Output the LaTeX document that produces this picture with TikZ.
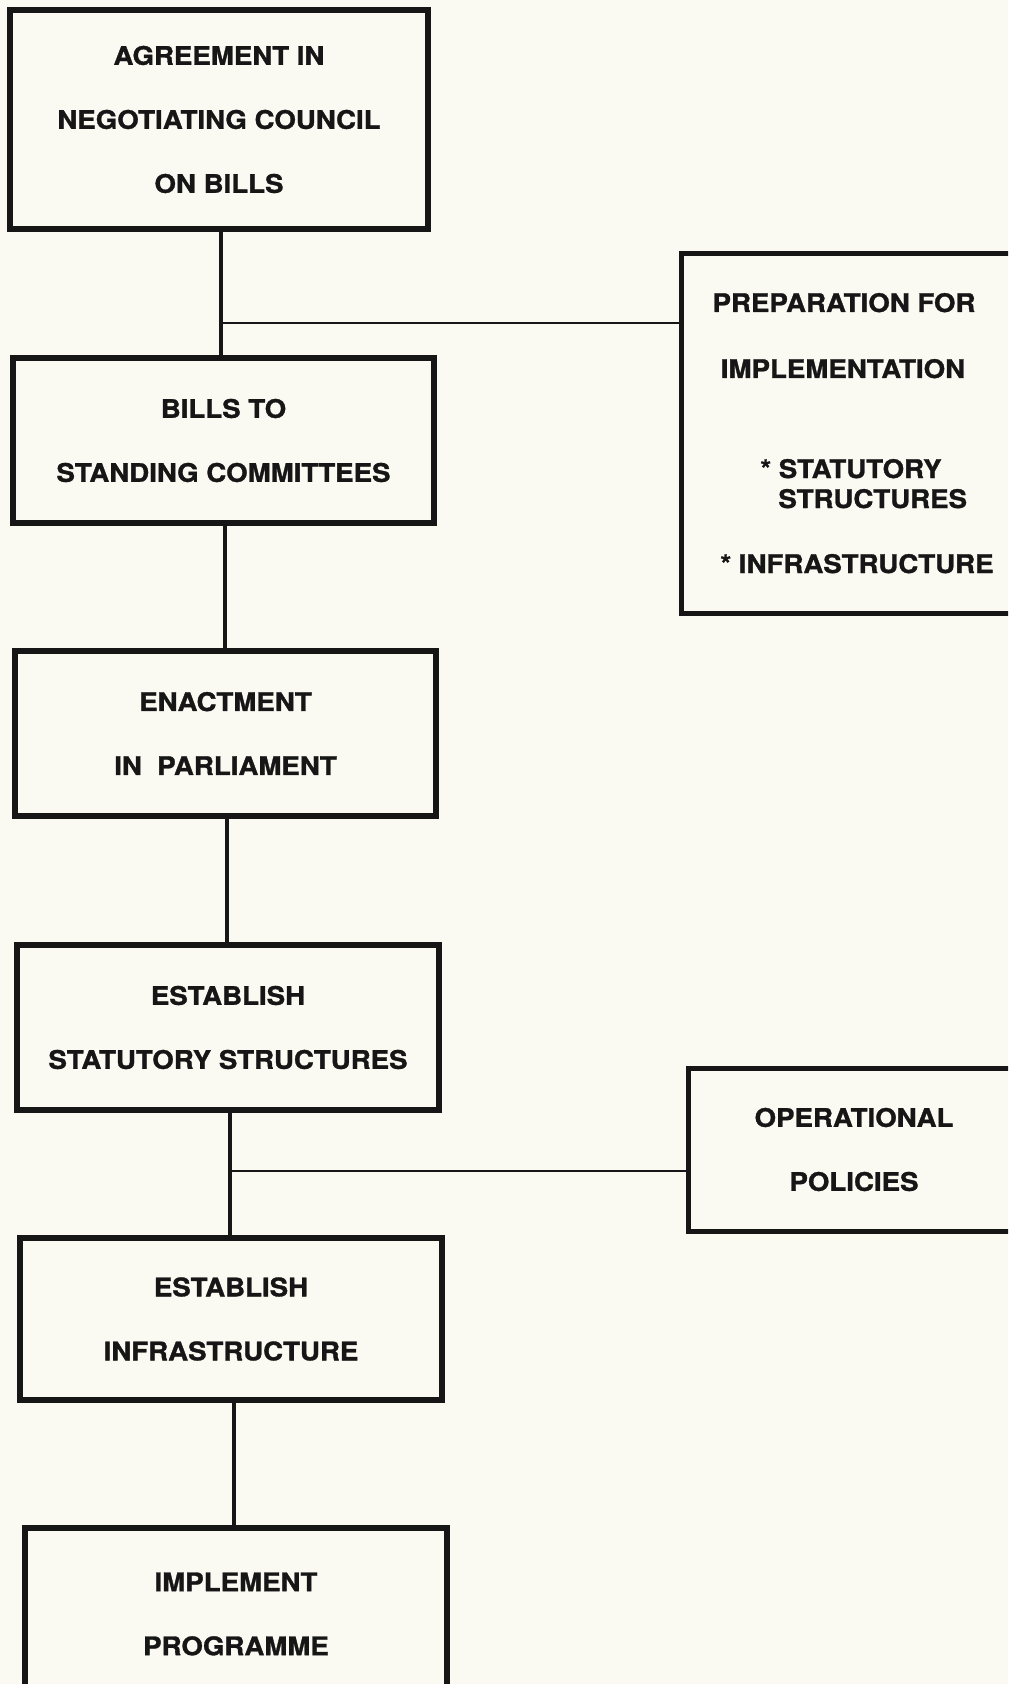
\documentclass[tikz,border=0pt]{standalone}
\usepackage{fontspec}
\usetikzlibrary{calc}
\newfontfamily\lblfont{TeX Gyre Heros}[FakeStretch=1.08,FakeBold=1.2]
\definecolor{paper}{RGB}{250,249,242}
\definecolor{ink}{RGB}{22,22,22}
\begin{document}
\begin{tikzpicture}[x=0.5pt,y=-0.5pt,
  txt/.style={font=\lblfont\bfseries\fontsize{12.8}{32}\selectfont, text=ink},
  stage/.style={txt, draw=ink, line width=3pt, rectangle, inner sep=0pt, align=center},
  side/.style={txt, draw=ink, line width=2.5pt, rectangle, inner sep=0pt, align=center},
  lbl/.style={txt, inner sep=0pt},
  link/.style={draw=ink, line width=2pt},
  branch/.style={draw=ink, line width=1pt}]
  % page
  \fill[paper] (0,0) rectangle (1008,1684);
  \useasboundingbox (0,0) rectangle (1008,1684);
  \clip (0,0) rectangle (1008,1684);

  % main sequence of stages
  \node[stage, minimum width=209pt, minimum height=109.5pt] (B1) at (219,119.5)
    {AGREEMENT IN\\NEGOTIATING COUNCIL\\ON BILLS};
  \node[stage, minimum width=210.5pt, minimum height=82.5pt] (B2) at (223.5,440.5)
    {BILLS TO\\STANDING COMMITTEES};
  \node[stage, minimum width=210.5pt, minimum height=82.5pt] (B3) at (225.5,733.5)
    {ENACTMENT\\IN\ \ PARLIAMENT};
  \node[stage, minimum width=211pt, minimum height=82.5pt] (B4) at (228,1027.5)
    {ESTABLISH\\STATUTORY STRUCTURES};
  \node[stage, minimum width=211pt, minimum height=81pt] (B5) at (231,1319)
    {ESTABLISH\\INFRASTRUCTURE};
  \node[stage, minimum width=211pt, minimum height=86pt] (B6) at (236,1614)
    {IMPLEMENT\\PROGRAMME};

  % side activities
  \node[side, minimum width=169.5pt, minimum height=179.5pt] (P) at (850.5,433.5) {};
  \node[lbl, anchor=base] (p1) at (844,312) {PREPARATION FOR};
  \node[lbl, anchor=base] (p2) at (843,378) {IMPLEMENTATION};
  \node[lbl, anchor=base west] (p3) at (760,478) {* STATUTORY};
  \node[lbl, anchor=base west] (p4) at (778,508) {STRUCTURES};
  \node[lbl, anchor=base] (p5) at (857,573) {* INFRASTRUCTURE};

  \node[side, minimum width=166pt, minimum height=81.5pt] (O) at (854,1149.5)
    {OPERATIONAL\\POLICIES};

  % vertical connectors, each at the mean x of the two boxes it joins
  \foreach \a/\b in {B1/B2,B2/B3,B3/B4,B4/B5,B5/B6}{
    \coordinate (m-\a) at ($(\a.south)!0.5!(\b.north)$);
    \draw[link] (m-\a |- \a.south) -- (m-\a |- \b.north);
  }

  % branches to the side activities
  \coordinate (j1) at ($(m-B1 |- B1.south)!0.74!(m-B1 |- B2.north)$);
  \coordinate (j2) at ($(m-B4 |- B4.south)!0.475!(m-B4 |- B5.north)$);
  \draw[branch] (j1) -- (P.west |- j1);
  \draw[branch] (j2) -- (O.west |- j2);
\end{tikzpicture}
\end{document}
